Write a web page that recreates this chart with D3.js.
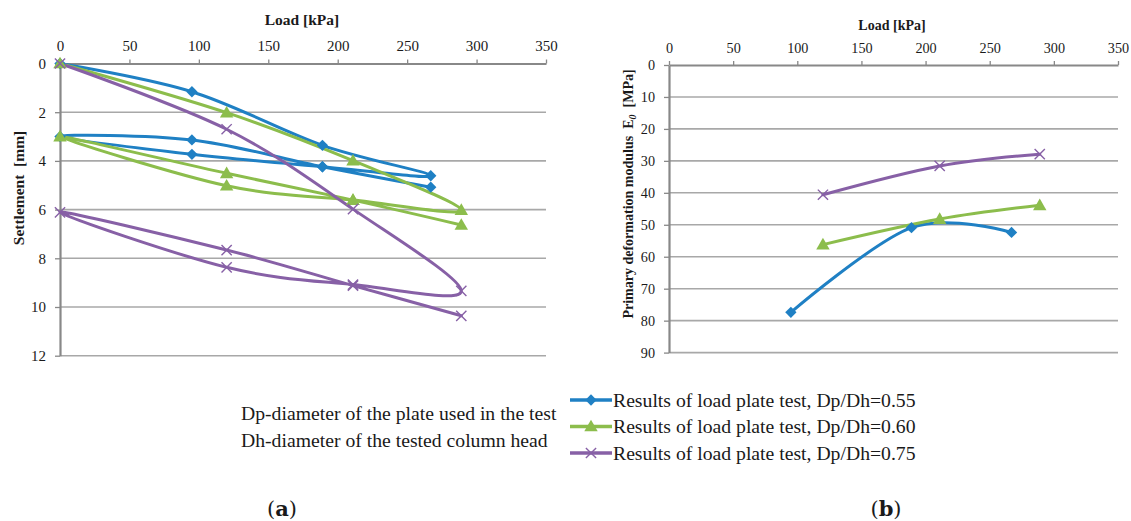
<!DOCTYPE html>
<html>
<head>
<meta charset="utf-8">
<script src="https://cdn.jsdelivr.net/npm/d3@7"></script>
<style>
  body { margin: 0; background: #fff; }
  svg { display: block; }
  svg text { font-family: "Liberation Serif", "Tinos", "Times New Roman", "DejaVu Serif", serif !important; fill: #1a1a1a; }
  svg text.cap { font-family: "DejaVu Serif", serif !important; }
</style>
</head>
<body>
<svg id="fig" width="1131" height="521"></svg>
<script>
// Axis ticks
const loadTicks = [0, 50, 100, 150, 200, 250, 300, 350];
const settlementTicks = [0, 2, 4, 6, 8, 10, 12];
const modulusTicks = [0, 10, 20, 30, 40, 50, 60, 70, 80, 90];

const seriesNames = [
  "Results of load plate test, Dp/Dh=0.55",
  "Results of load plate test, Dp/Dh=0.60",
  "Results of load plate test, Dp/Dh=0.75"
];
const seriesColors = ["#1f80c4", "#8cbd4c", "#8760a6"];
const seriesMarkers = ["diamond", "triangle", "cross"];

// (a) settlement: first loading, unloading, reloading [kPa, mm]
const loadA = [0, 95, 189, 267, 189, 95, 0, 95, 189, 267];
const settleA = [0, 1.16, 3.36, 4.61, 4.24, 3.73, 3.0, 3.14, 4.24, 5.08];
const loadB = [0, 120, 211, 289, 211, 120, 0, 120, 211, 289];
const settleB = [0, 2.02, 3.99, 6.02, 5.61, 5.02, 3.0, 4.51, 5.61, 6.63];
const loadC = [0, 120, 211, 289, 211, 120, 0, 120, 211, 289];
const settleC = [0, 2.70, 5.98, 9.34, 9.08, 8.37, 6.11, 7.66, 9.12, 10.36];

// (b) primary deformation modulus E0 [kPa, MPa]
const modLoadA = [95, 189, 267];
const modA = [77.4, 50.9, 52.4];
const modLoadB = [120, 211, 289];
const modB = [56.2, 48.2, 43.9];
const modLoadC = [120, 211, 289];
const modC = [40.6, 31.6, 27.9];

const notes = [
  "Dp-diameter of the plate used in the test",
  "Dh-diameter of the tested column head"
];

const svg = d3.select("#fig");
svg.append("rect").attr("width", 1131).attr("height", 521).attr("fill", "#fff");

const zip = (xs, ys) => xs.map((x, i) => ({ x, y: ys[i] }));
const curve = d3.curveCatmullRom.alpha(0);

function marker(g, kind, color, cx, cy) {
  if (kind === "diamond") {
    g.append("path")
      .attr("d", d3.symbol(d3.symbolSquare, 64)())
      .attr("transform", `translate(${cx},${cy}) rotate(45)`)
      .attr("fill", color);
  } else if (kind === "triangle") {
    g.append("path")
      .attr("d", d3.symbol(d3.symbolTriangle, 78)())
      .attr("transform", `translate(${cx},${cy + 1})`)
      .attr("fill", color);
  } else {
    g.append("path")
      .attr("d", d3.symbol(d3.symbolX, 70)())
      .attr("transform", `translate(${cx},${cy})`)
      .attr("fill", "none")
      .attr("stroke", color)
      .attr("stroke-width", 1.4);
  }
}

function panel(opts) {
  const { x, y, yTicks, data, font, title, ylab, tickPad } = opts;
  const g = svg.append("g");
  const [x0, x1] = x.range();

  // horizontal gridlines
  g.append("g").selectAll("line")
    .data(yTicks.filter(t => t !== 0))
    .join("line")
    .attr("x1", x0).attr("x2", x1)
    .attr("y1", d => y(d)).attr("y2", d => y(d))
    .attr("stroke", "#a8a8a8").attr("stroke-width", 1.6);

  // top load axis
  const ax = g.append("g").attr("transform", `translate(0,${y(0)})`)
    .call(d3.axisTop(x).tickValues(loadTicks).tickSize(4).tickPadding(tickPad.x).tickSizeOuter(0));
  ax.attr("font-family", null);
  ax.select(".domain").attr("stroke", "#888").attr("stroke-width", 2);
  ax.selectAll(".tick line").attr("stroke", "#888").attr("stroke-width", 1.3);
  ax.selectAll(".tick text").attr("font-size", font.tick).attr("fill", "#1a1a1a");

  // left value axis
  const ay = g.append("g").attr("transform", `translate(${x0},0)`)
    .call(d3.axisLeft(y).tickValues(yTicks).tickSize(5).tickPadding(tickPad.y).tickSizeOuter(0));
  ay.attr("font-family", null);
  ay.select(".domain").attr("stroke", "#888").attr("stroke-width", 2.2);
  ay.selectAll(".tick line").attr("stroke", "#888").attr("stroke-width", 1.3);
  ay.selectAll(".tick text").attr("font-size", font.tick).attr("fill", "#1a1a1a");

  // axis titles
  g.append("text").attr("x", title.x).attr("y", title.y)
    .attr("text-anchor", "middle").attr("font-weight", "bold")
    .attr("font-size", font.title).text("Load [kPa]");
  ylab(g);

  // series lines then markers
  const line = d3.line().x(d => x(d.x)).y(d => y(d.y)).curve(curve);
  data.forEach((pts, i) => {
    g.append("path").attr("d", line(pts)).attr("fill", "none")
      .attr("stroke", seriesColors[i]).attr("stroke-width", 3)
      .attr("stroke-linejoin", "round").attr("stroke-linecap", "round");
  });
  data.forEach((pts, i) => {
    pts.forEach(p => marker(g, seriesMarkers[i], seriesColors[i], x(p.x), y(p.y)));
  });
}

// (a) load–settlement
const xA = d3.scaleLinear().domain([0, 350]).range([60, 546]);
const yA = d3.scaleLinear().domain([0, 12]).range([63.5, 355.7]);
panel({
  x: xA, y: yA, yTicks: settlementTicks,
  data: [zip(loadA, settleA), zip(loadB, settleB), zip(loadC, settleC)],
  font: { tick: 15, title: 15.5 },
  tickPad: { x: 9, y: 9 },
  title: { x: 302, y: 25 },
  ylab: g => g.append("text")
    .attr("transform", "translate(24,188) rotate(-90)")
    .attr("text-anchor", "middle").attr("font-weight", "bold").attr("font-size", 15.5)
    .attr("xml:space", "preserve")
    .text("Settlement  [mm]")
});

// (b) load–modulus
const xB = d3.scaleLinear().domain([0, 350]).range([669, 1118]);
const yB = d3.scaleLinear().domain([0, 90]).range([65, 352.6]);
panel({
  x: xB, y: yB, yTicks: modulusTicks,
  data: [zip(modLoadA, modA), zip(modLoadB, modB), zip(modLoadC, modC)],
  font: { tick: 14.2, title: 14 },
  tickPad: { x: 8, y: 9 },
  title: { x: 892, y: 30 },
  ylab: g => {
    const t = g.append("text")
      .attr("transform", "translate(633,194) rotate(-90)")
      .attr("text-anchor", "middle").attr("font-weight", "bold").attr("font-size", 14)
      .attr("xml:space", "preserve");
    t.append("tspan").text("Primary deformation modulus  E");
    t.append("tspan").attr("font-style", "italic").attr("font-size", 10).attr("dy", 3).text("0");
    t.append("tspan").attr("dy", -3).text("  [MPa]");
  }
});

// notes and legend
const leg = svg.append("g");
notes.forEach((s, i) => {
  leg.append("text").attr("x", 241).attr("y", 420 + i * 27)
    .attr("font-size", 19.7).text(s);
});
seriesNames.forEach((s, i) => {
  const cy = 400 + i * 26.5;
  leg.append("line").attr("x1", 570).attr("x2", 612).attr("y1", cy).attr("y2", cy)
    .attr("stroke", seriesColors[i]).attr("stroke-width", 3.5);
  marker(leg, seriesMarkers[i], seriesColors[i], 591, cy);
  leg.append("text").attr("x", 613).attr("y", cy + 6.5).attr("font-size", 19.7).text(s);
});

// panel captions
[["a", 282], ["b", 886]].forEach(([c, cx]) => {
  const t = svg.append("text").attr("class", "cap").attr("x", cx).attr("y", 516)
    .attr("text-anchor", "middle").attr("font-size", 21);
  t.append("tspan").text("(");
  t.append("tspan").attr("font-weight", "bold").text(c);
  t.append("tspan").text(")");
});
</script>
</body>
</html>
